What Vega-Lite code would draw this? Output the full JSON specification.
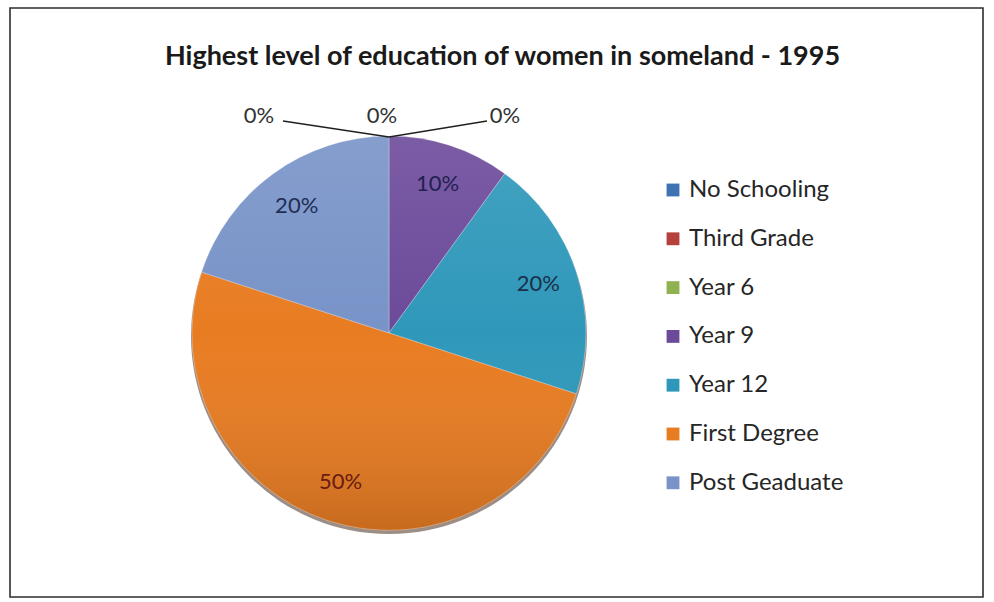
{
  "$schema": "https://vega.github.io/schema/vega-lite/v6.json",
  "width": 973,
  "height": 589,
  "autosize": "none",
  "padding": {"left": 10, "top": 8, "right": 11, "bottom": 5},
  "background": "white",
  "config": {"view": {"stroke": "#2e2e2e", "strokeWidth": 1.6}, "font": "Lato"},
  "title": {"text": "Highest level of education of women in someland - 1995", "font": "Lato", "fontWeight": "bold", "fontSize": 27, "color": "#1a1a1a", "offset": -63, "dx": 6, "anchor": "middle"},
  "data": {"values": [
    {"category": "No Schooling", "share": 0, "order": 1},
    {"category": "Third Grade", "share": 0, "order": 2},
    {"category": "Year 6", "share": 0, "order": 3},
    {"category": "Year 9", "share": 0.1, "order": 4},
    {"category": "Year 12", "share": 0.2, "order": 5},
    {"category": "First Degree", "share": 0.5, "order": 6},
    {"category": "Post Geaduate", "share": 0.2, "order": 7}
  ]},
  "layer": [
    {
      "transform": [{"aggregate": [{"op": "sum", "field": "share", "as": "total"}]}],
      "mark": {"type": "arc", "radius": 198, "x": {"expr": "width*0.3895"}, "y": {"expr": "height*0.5518+3"}, "fill": "#4a3020", "opacity": 0.55},
      "encoding": {"theta": {"field": "total", "type": "quantitative", "stack": true}}
    },
    {
      "mark": {"type": "arc", "radius": 197, "x": {"expr": "width*0.3895"}, "y": {"expr": "height*0.5518"}, "stroke": "#ffffff", "strokeWidth": 0.6, "strokeOpacity": 0.5},
      "encoding": {
        "theta": {"field": "share", "type": "quantitative", "stack": true},
        "order": {"field": "order", "type": "quantitative"},
        "color": {
          "field": "category", "type": "nominal",
          "scale": {"domain": ["No Schooling", "Third Grade", "Year 6", "Year 9", "Year 12", "First Degree", "Post Geaduate"],
                    "range": ["#3f72b0", "#b5413c", "#8fb150", "#6c4a9a", "#2f98ba", "#e87c22", "#7893c8"]},
          "legend": {"title": null, "orient": "none", "legendX": 651, "legendY": 170, "padding": 0,
                     "labelFont": "Lato", "labelFontSize": 24, "labelColor": "#262626",
                     "symbolType": "square", "symbolSize": 165, "symbolStrokeWidth": 0, "rowPadding": 24.8, "labelOffset": 4}
        }
      }
    },
    {
      "transform": [{"aggregate": [{"op": "sum", "field": "share", "as": "total"}]}],
      "mark": {"type": "arc", "radius": 197, "x": {"expr": "width*0.3895"}, "y": {"expr": "height*0.5518"},
               "fill": {"gradient": "linear", "x1": 0, "y1": 0, "x2": 0, "y2": 1,
                        "stops": [{"offset": 0, "color": "rgba(255,255,255,0.10)"}, {"offset": 0.5, "color": "rgba(255,255,255,0)"}, {"offset": 1, "color": "rgba(0,0,0,0.14)"}]}},
      "encoding": {"theta": {"field": "total", "type": "quantitative", "stack": true}}
    },
    {
      "transform": [{"filter": "datum.share > 0"}],
      "mark": {"type": "text", "radius": 157, "x": {"expr": "width*0.3895"}, "y": {"expr": "height*0.5518"}, "font": "Lato", "fontSize": 22},
      "encoding": {
        "theta": {"field": "share", "type": "quantitative", "stack": true},
        "order": {"field": "order", "type": "quantitative"},
        "text": {"field": "share", "type": "quantitative", "format": ".0%"},
        "color": {"field": "category", "type": "nominal",
                  "scale": {"domain": ["Year 9", "Year 12", "First Degree", "Post Geaduate"], "range": ["#1f2150", "#1c2f4a", "#6a1a12", "#1f2d55"]},
                  "legend": null}
      }
    },
    {
      "transform": [{"filter": "datum.share == 0"}],
      "mark": {"type": "text", "y": {"expr": "height*0.1834"}, "font": "Lato", "fontSize": 22, "color": "#333333"},
      "encoding": {
        "x": {"field": "category", "type": "nominal", "axis": null,
              "scale": {"type": "point", "domain": ["No Schooling", "Third Grade", "Year 6"], "range": [249, 495], "padding": 0}},
        "text": {"field": "share", "type": "quantitative", "format": ".0%"}
      }
    },
    {
      "transform": [{"filter": "datum.category == 'No Schooling'"}],
      "mark": {"type": "rule", "xOffset": 24, "x2Offset": 7, "color": "#202020", "strokeWidth": 1.5},
      "encoding": {
        "x": {"field": "category", "type": "nominal"},
        "x2": {"datum": "Third Grade"},
        "y": {"datum": 0.1919, "type": "quantitative", "scale": {"domain": [0, 1], "reverse": true}, "axis": null},
        "y2": {"datum": 0.2190}
      }
    },
    {
      "transform": [{"filter": "datum.category == 'Year 6'"}],
      "mark": {"type": "rule", "xOffset": -18, "x2Offset": 7, "color": "#202020", "strokeWidth": 1.5},
      "encoding": {
        "x": {"field": "category", "type": "nominal"},
        "x2": {"datum": "Third Grade"},
        "y": {"datum": 0.1919, "type": "quantitative"},
        "y2": {"datum": 0.2190}
      }
    }
  ],
  "resolve": {"scale": {"color": "independent"}}
}
